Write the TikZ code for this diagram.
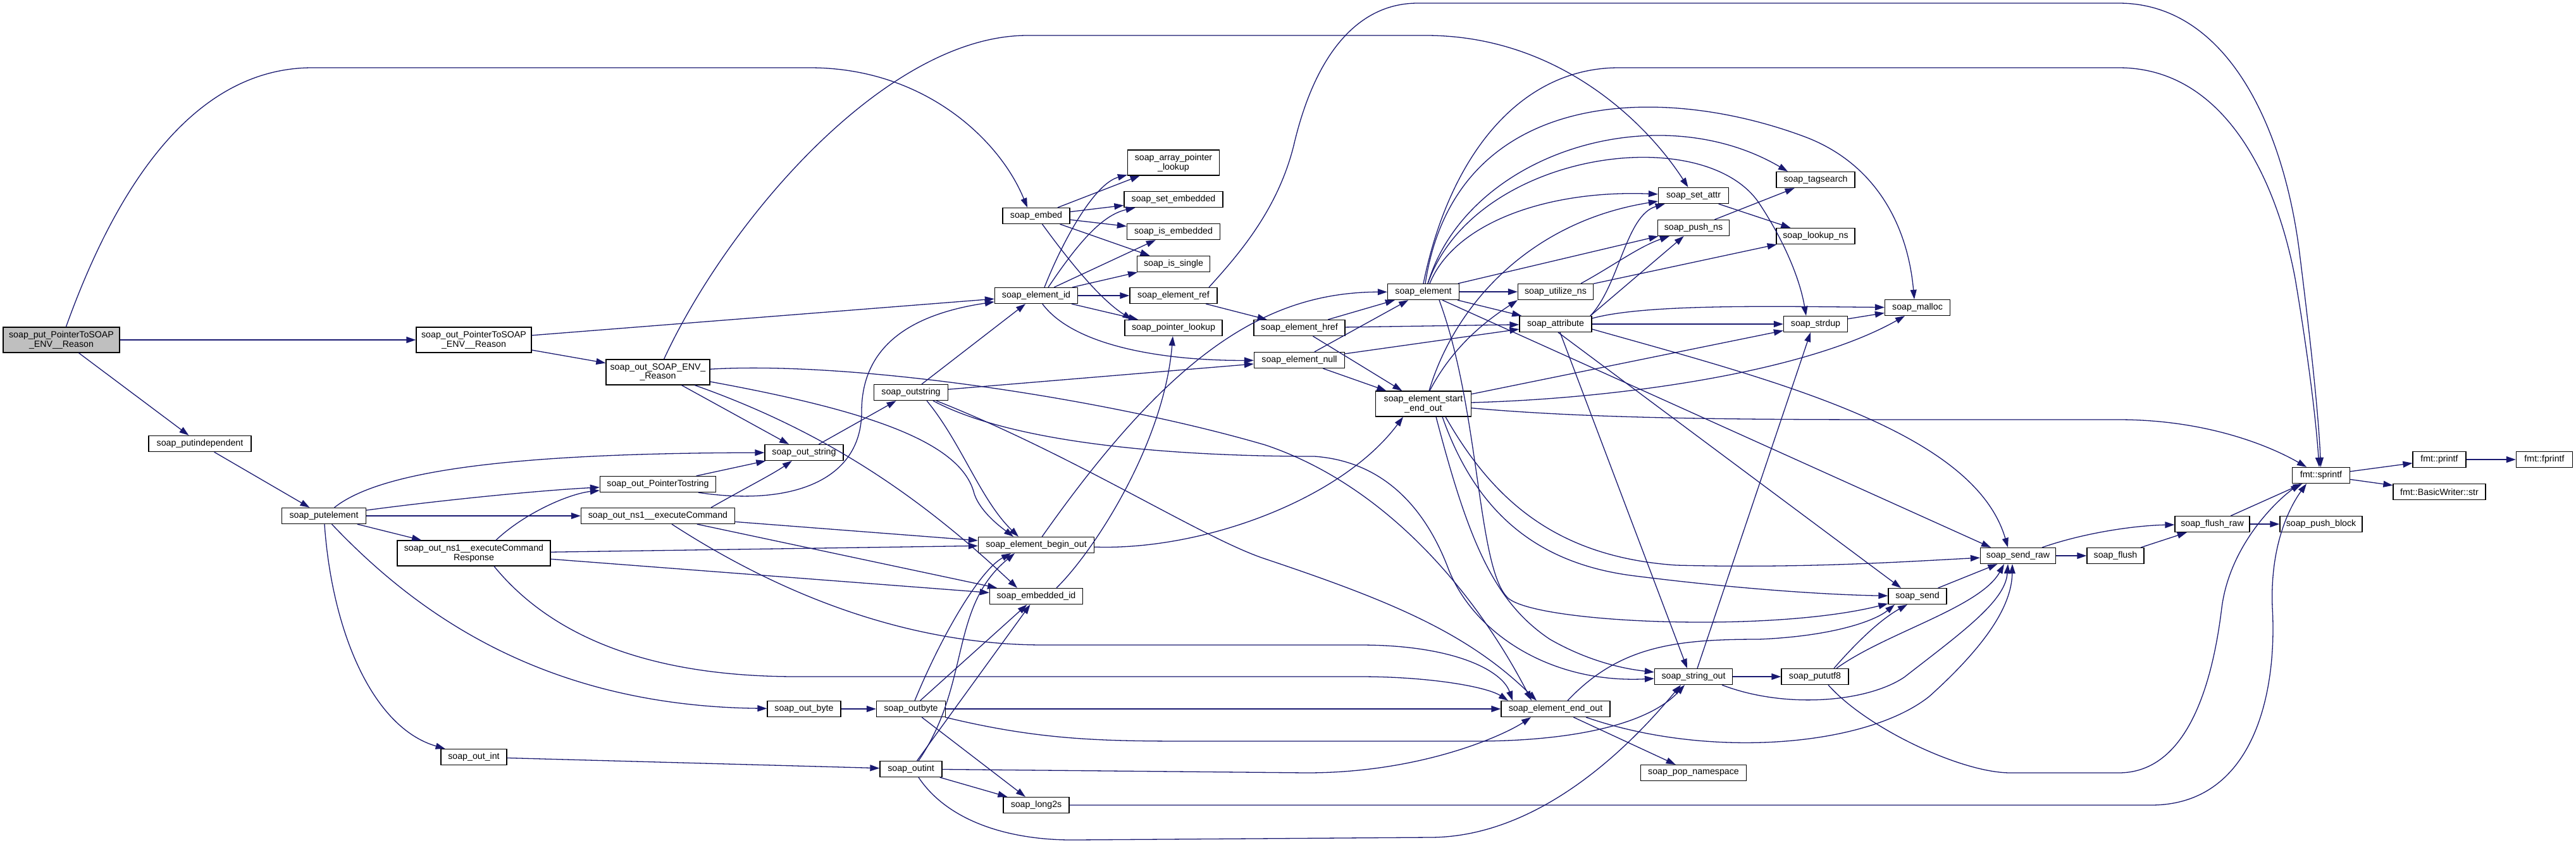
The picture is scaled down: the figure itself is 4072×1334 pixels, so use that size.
\documentclass[tikz,border=0pt]{standalone}
\usepackage{fontspec}
\setmainfont{Liberation Sans}
\usetikzlibrary{arrows.meta}
\definecolor{callblue}{HTML}{191970}
\definecolor{rootgray}{HTML}{BFBFBF}
\tikzset{
  fn/.style={draw=black, line width=1.3pt, fill=white, inner sep=0pt,
    minimum height=25pt, align=center,
    font=\fontsize{14.2}{14.7}\selectfont},
  fntwo/.style={fn, minimum height=40pt},
  rootfn/.style={fntwo, fill=rootgray},
  call/.style={draw=callblue, line width=1.3pt,
    -{Triangle[length=15pt,width=10pt]}},
}
\begin{document}
\begin{tikzpicture}[x=1pt,y=-1pt]
\useasboundingbox (0,0) rectangle (4072,1334);

% functions, left to right
\node[rootfn, minimum width=184pt] (root) at (97,537) {soap\_put\_PointerToSOAP\\\_ENV\_\_Reason};
\node[fntwo, minimum width=182pt] (outPtrReason) at (749,537) {soap\_out\_PointerToSOAP\\\_ENV\_\_Reason};
\node[fn, minimum width=162pt] (putindep) at (316,701) {soap\_putindependent};
\node[fn, minimum width=133pt] (putelem) at (512,815) {soap\_putelement};
\node[fntwo, minimum width=164pt] (outReason) at (1040,588) {soap\_out\_SOAP\_ENV\_\\\_Reason};
\node[fn, minimum width=183pt] (outPtrStr) at (1040,765) {soap\_out\_PointerTostring};
\node[fn, minimum width=243pt] (outExec) at (1040,815) {soap\_out\_ns1\_\_executeCommand};
\node[fntwo, minimum width=242pt] (outExecResp) at (749,874) {soap\_out\_ns1\_\_executeCommand\\Response};
\node[fn, minimum width=104pt] (outint_) at (749,1196) {soap\_out\_int};
\node[fn, minimum width=124pt] (outstr) at (1271,715) {soap\_out\_string};
\node[fn, minimum width=116pt] (outbyte_) at (1271,1120) {soap\_out\_byte};
\node[fn, minimum width=117pt] (outstring) at (1440,620) {soap\_outstring};
\node[fn, minimum width=109pt] (outbyte) at (1440,1120) {soap\_outbyte};
\node[fn, minimum width=98pt] (outint) at (1440,1215) {soap\_outint};
\node[fn, minimum width=106pt] (embed) at (1638,341) {soap\_embed};
\node[fn, minimum width=131pt] (elemid) at (1638,467) {soap\_element\_id};
\node[fn, minimum width=183pt] (beginout) at (1638,861) {soap\_element\_begin\_out};
\node[fn, minimum width=147pt] (embid) at (1638,942) {soap\_embedded\_id};
\node[fn, minimum width=104pt] (long2s) at (1638,1272) {soap\_long2s};
\node[fntwo, minimum width=145pt] (arrlookup) at (1855,257) {soap\_array\_pointer\\\_lookup};
\node[fn, minimum width=156pt] (setemb) at (1855,315) {soap\_set\_embedded};
\node[fn, minimum width=147pt] (isemb) at (1855,366) {soap\_is\_embedded};
\node[fn, minimum width=115pt] (issingle) at (1855,417) {soap\_is\_single};
\node[fn, minimum width=138pt] (elemref) at (1855,467) {soap\_element\_ref};
\node[fn, minimum width=154pt] (ptrlookup) at (1855,518) {soap\_pointer\_lookup};
\node[fn, minimum width=144pt] (href) at (2054,518) {soap\_element\_href};
\node[fn, minimum width=143pt] (null) at (2054,569) {soap\_element\_null};
\node[fn, minimum width=113pt] (element) at (2250,461) {soap\_element};
\node[fntwo, minimum width=151pt] (startend) at (2250,638) {soap\_element\_start\\\_end\_out};
\node[fn, minimum width=119pt] (utilize) at (2459,461) {soap\_utilize\_ns};
\node[fn, minimum width=114pt] (attribute) at (2459,512) {soap\_attribute};
\node[fn, minimum width=172pt] (endout) at (2459,1120) {soap\_element\_end\_out};
\node[fn, minimum width=111pt] (setattr) at (2677,309) {soap\_set\_attr};
\node[fn, minimum width=113pt] (pushns) at (2677,360) {soap\_push\_ns};
\node[fn, minimum width=123pt] (stringout) at (2677,1069) {soap\_string\_out};
\node[fn, minimum width=167pt] (popns) at (2677,1221) {soap\_pop\_namespace};
\node[fn, minimum width=124pt] (tagsearch) at (2870,284) {soap\_tagsearch};
\node[fn, minimum width=124pt] (lookupns) at (2870,373) {soap\_lookup\_ns};
\node[fn, minimum width=101pt] (strdup) at (2870,512) {soap\_strdup};
\node[fn, minimum width=106pt] (pututf8) at (2869,1069) {soap\_pututf8};
\node[fn, minimum width=103pt] (malloc) at (3031,486) {soap\_malloc};
\node[fn, minimum width=92pt] (send) at (3031,942) {soap\_send};
\node[fn, minimum width=119pt] (sendraw) at (3190,878) {soap\_send\_raw};
\node[fn, minimum width=90pt] (flush) at (3344,878) {soap\_flush};
\node[fn, minimum width=118pt] (flushraw) at (3497,828) {soap\_flush\_raw};
\node[fn, minimum width=130pt] (pushblock) at (3669,828) {soap\_push\_block};
\node[fn, minimum width=91pt] (sprintf) at (3669,751) {fmt::sprintf};
\node[fn, minimum width=84pt] (printf) at (3856,726) {fmt::printf};
\node[fn, minimum width=146pt] (bwstr) at (3856,777) {fmt::BasicWriter::str};
\node[fn, minimum width=89pt] (fprintf) at (4022,726) {fmt::fprintf};

% calls from the root
\draw[call] (root) .. controls (200,250) and (330,107) .. (494,107) -- (1280,107) .. controls (1460,107) and (1580,220) .. ([xshift=-14pt]embed.north);
\draw[call] (root) -- (outPtrReason);
\draw[call] (root) -- (putindep);
\draw[call] (putindep) -- (putelem);
\draw[call] (outPtrReason) -- (elemid);
\draw[call] (outPtrReason) -- (outReason);

% soap_embed, soap_element_id
\foreach \t in {arrlookup,setemb,isemb,issingle}
  \draw[call] (embed) -- (\t);
\draw[call] (embed) .. controls (1710,440) and (1750,480) .. ([xshift=12pt]ptrlookup.north west);
\draw[call] ([xshift=13pt]elemid.north) .. controls (1680,380) and (1730,290) .. (arrlookup);
\draw[call] ([xshift=19pt]elemid.north) .. controls (1700,390) and (1740,340) .. (setemb);
\foreach \t in {isemb,issingle,elemref,ptrlookup}
  \draw[call] (elemid) -- (\t);
\draw[call] (elemid) .. controls (1700,550) and (1850,570) .. (null);
\draw[call] (elemref) -- (href);
\draw[call] ([xshift=56pt]elemref.north) .. controls (1960,400) and (2020,330) .. (2045,230) .. controls (2080,80) and (2150,5) .. (2241,5) -- (3349,5) .. controls (3520,5) and (3610,200) .. (3635,400) .. controls (3650,520) and (3665,650) .. (sprintf);

% soap_out_SOAP_ENV__Reason
\draw[call] (outReason) .. controls (1150,350) and (1400,56) .. (1624,56) -- (2254,56) .. controls (2460,56) and (2600,190) .. (setattr);
\draw[call] (outReason) -- (outstr);
\draw[call] (outReason) .. controls (1380,650) and (1520,700) .. (1540,780) .. controls (1550,810) and (1585,835) .. ([xshift=-36pt]beginout.north);
\draw[call] (outReason) .. controls (1300,680) and (1450,780) .. ([xshift=-30pt]embid.north);
\draw[call] (outReason) .. controls (1350,570) and (1750,630) .. (2000,703) .. controls (2200,770) and (2340,950) .. ([xshift=-38pt]endout.north);

% soap_putelement
\draw[call] (putelem) .. controls (600,745) and (800,716) .. (outstr);
\draw[call] (putelem) .. controls (700,790) and (850,775) .. (outPtrStr);
\draw[call] (putelem) -- (outExec);
\draw[call] (putelem) -- (outExecResp);
\draw[call] (putelem) .. controls (525,1000) and (590,1150) .. (outint_);
\draw[call] (putelem) .. controls (650,960) and (850,1115) .. (outbyte_);

% generated serializers
\draw[call] ([xshift=35pt]outExecResp.north) .. controls (830,810) and (900,780) .. (outPtrStr);
\draw[call] (outExecResp) -- (beginout);
\draw[call] (outExecResp) -- (embid);
\draw[call] ([xshift=32pt]outExecResp.south) .. controls (900,1040) and (1100,1069) .. (1260,1069) -- (2150,1069) .. controls (2260,1069) and (2350,1085) .. ([xshift=-75pt]endout.north);
\draw[call] ([xshift=84pt]outExec.north) .. controls (1180,770) and (1220,750) .. (outstr);
\draw[call] (outExec) -- (beginout);
\draw[call] (outExec) -- (embid);
\draw[call] ([xshift=22pt]outExec.south) .. controls (1250,950) and (1450,1019) .. (1650,1019) -- (2150,1019) .. controls (2300,1019) and (2375,1060) .. ([xshift=-68pt]endout.north);
\draw[call] (outPtrStr) -- (outstr);
\draw[call] ([xshift=64pt]outPtrStr.south) .. controls (1250,800) and (1362,760) .. (1362,650) .. controls (1362,540) and (1450,495) .. (elemid);
\draw[call] (outstr) -- (outstring);
\draw[call] (outbyte_) -- (outbyte);
\draw[call] (outint_) -- (outint);

% soap_outstring
\draw[call] (outstring) -- (elemid);
\draw[call] (outstring) -- (null);
\draw[call] ([xshift=25pt]outstring.south) .. controls (1520,700) and (1550,790) .. ([xshift=-28pt]beginout.north);
\draw[call] ([xshift=35pt]outstring.south) .. controls (1600,700) and (1850,721) .. (2078,721) .. controls (2200,730) and (2260,820) .. (2290,900) .. controls (2330,1000) and (2450,1080) .. (stringout);
\draw[call] ([xshift=40pt]outstring.south) .. controls (1700,720) and (1900,850) .. (2000,883) .. controls (2200,950) and (2320,1000) .. ([xshift=-30pt]endout.north);

% soap_outbyte, soap_outint
\draw[call] ([xshift=6pt]outbyte.north) .. controls (1490,1000) and (1550,900) .. ([xshift=-40pt]beginout.south);
\draw[call] (outbyte) -- (embid);
\draw[call] (outbyte) -- (endout);
\draw[call] (outbyte) .. controls (1650,1171) and (1750,1171) .. (1900,1171) -- (2330,1171) .. controls (2500,1171) and (2610,1140) .. ([xshift=-14pt]stringout.south);
\draw[call] (outbyte) -- (long2s);
\draw[call] ([xshift=12pt]outint.north) .. controls (1535,1080) and (1500,960) .. ([xshift=-34pt]beginout.south);
\draw[call] (outint) -- (embid);
\draw[call] (outint) -- (2065,1221) .. controls (2250,1221) and (2380,1160) .. ([xshift=-39pt]endout.south);
\draw[call] ([xshift=12pt]outint.south) .. controls (1500,1300) and (1600,1328) .. (1700,1327) -- (2260,1323) .. controls (2450,1323) and (2600,1150) .. ([xshift=-20pt]stringout.south);
\draw[call] (outint) -- (long2s);
\draw[call] (long2s) -- (3400,1272) .. controls (3560,1272) and (3600,1100) .. (3592,960) .. controls (3588,860) and (3620,800) .. ([xshift=-23pt]sprintf.south);

% begin / embedded
\draw[call] (beginout) .. controls (1850,560) and (2000,462) .. (element);
\draw[call] (beginout) .. controls (1900,870) and (2120,790) .. ([xshift=-32pt]startend.south);
\draw[call] ([xshift=32pt]embid.north) .. controls (1730,870) and (1840,700) .. (ptrlookup);

% soap_element_href, soap_element_null
\foreach \s in {href,null}{
  \draw[call] (\s) -- (element);
  \draw[call] (\s) -- (attribute);
  \draw[call] (\s) -- (startend);
}

% soap_element
\draw[call] (element) -- (utilize);
\draw[call] (element) -- (attribute);
\draw[call] ([xshift=10pt]element.north) .. controls (2300,350) and (2450,300) .. (setattr);
\draw[call] ([xshift=55pt]element.north) -- (pushns);
\draw[call] ([xshift=7pt]element.north) .. controls (2320,240) and (2620,150) .. ([xshift=-44pt]tagsearch.north);
\draw[call] ([xshift=7pt]element.north) .. controls (2330,240) and (2690,190) .. (2780,320) .. controls (2820,380) and (2845,440) .. ([xshift=-15pt]strdup.north);
\draw[call] ([xshift=3pt]element.north) .. controls (2300,140) and (2620,130) .. (2850,215) .. controls (2960,255) and (3015,350) .. ([xshift=-5pt]malloc.north);
\draw[call] (element.north) .. controls (2290,250) and (2400,107) .. (2559,107) -- (3349,107) .. controls (3520,107) and (3600,290) .. (3628,440) .. controls (3645,540) and (3660,650) .. ([xshift=-3pt]sprintf.north);
\draw[call] ([xshift=25pt]element.south) .. controls (2340,650) and (2335,900) .. (2384,945) .. controls (2430,985) and (2800,1000) .. (send);
\draw[call] ([xshift=30pt]element.south) -- ([xshift=-43pt]sendraw.north);

% soap_element_start_end_out
\draw[call] ([xshift=10pt]startend.north) .. controls (2300,540) and (2360,500) .. (utilize.south west);
\draw[call] ([xshift=9pt]startend.north) .. controls (2300,480) and (2420,350) .. (setattr);
\draw[call] (startend) -- (strdup);
\draw[call] (startend) .. controls (2550,630) and (2850,590) .. ([xshift=-20pt]malloc.south);
\draw[call] (startend) .. controls (2500,660) and (2700,663) .. (3000,663) -- (3349,663) .. controls (3480,663) and (3580,700) .. (sprintf);
\draw[call] ([xshift=30pt]startend.south) .. controls (2330,800) and (2420,890) .. (2585,910) .. controls (2760,932) and (2900,940) .. (send);
\draw[call] ([xshift=35pt]startend.south) .. controls (2360,790) and (2460,880) .. (2650,893) .. controls (2850,898) and (3000,888) .. (sendraw);
\draw[call] ([xshift=20pt]startend.south) .. controls (2320,850) and (2360,950) .. (2450,1010) .. controls (2520,1050) and (2580,1058) .. (stringout);

% namespaces and attributes
\draw[call] ([xshift=40pt]utilize.north) .. controls (2550,420) and (2590,390) .. (pushns);
\draw[call] (utilize) -- (lookupns);
\draw[call] ([xshift=55pt]attribute.north) .. controls (2560,450) and (2570,340) .. (setattr);
\draw[call] ([xshift=55pt]attribute.north) -- (pushns);
\draw[call] (attribute) -- (strdup);
\draw[call] ([yshift=9pt]attribute.east) .. controls (2600,480) and (2800,484) .. (malloc);
\draw[call] ([xshift=4pt]attribute.south) -- ([xshift=-26pt]send.north);
\draw[call] ([yshift=-8pt]attribute.east) .. controls (2800,600) and (3120,680) .. ([xshift=-16pt]sendraw.north);
\draw[call] ([xshift=7pt]attribute.south) -- ([xshift=-10pt]stringout.north);
\draw[call] (setattr) -- (lookupns);
\draw[call] (pushns) -- (tagsearch);
\draw[call] (strdup) -- (malloc);

% output of text
\draw[call] (stringout) -- (pututf8);
\draw[call] ([xshift=6pt]stringout.north) -- ([xshift=-8pt]strdup.south);
\draw[call] ([xshift=45pt]stringout.south) .. controls (2820,1120) and (2950,1110) .. (3010,1070) .. controls (3100,1000) and (3170,950) .. ([xshift=-16pt]sendraw.south);
\draw[call] ([xshift=30pt]pututf8.north) .. controls (2930,1020) and (2970,980) .. ([xshift=-16pt]send.south);
\draw[call] ([xshift=34pt]pututf8.north) .. controls (2980,1000) and (3130,960) .. ([xshift=-22pt]sendraw.south);
\draw[call] ([xshift=21pt]pututf8.south) .. controls (2950,1150) and (3100,1221) .. (3178,1221) -- (3349,1221) .. controls (3450,1221) and (3495,1100) .. (3512,960) .. controls (3525,860) and (3600,790) .. ([xshift=-33pt]sprintf.south);
\draw[call] (endout) -- (popns);
\draw[call] ([xshift=19pt]endout.north) .. controls (2560,1020) and (2650,1010) .. (2780,1010) .. controls (2900,1005) and (2965,980) .. ([xshift=-36pt]send.south);
\draw[call] ([xshift=48pt]endout.south) .. controls (2700,1200) and (2950,1180) .. (3050,1100) .. controls (3150,1010) and (3180,950) .. ([xshift=-9pt]sendraw.south);

% sending and formatting
\draw[call] (send) -- (sendraw);
\draw[call] (sendraw) -- (flush);
\draw[call] (sendraw) .. controls (3300,840) and (3380,830) .. (flushraw);
\draw[call] (flush) -- (flushraw);
\draw[call] (flushraw) -- (pushblock);
\draw[call] (flushraw) -- (sprintf);
\draw[call] (sprintf) -- (printf);
\draw[call] (sprintf) -- (bwstr);
\draw[call] (printf) -- (fprintf);
\end{tikzpicture}
\end{document}
